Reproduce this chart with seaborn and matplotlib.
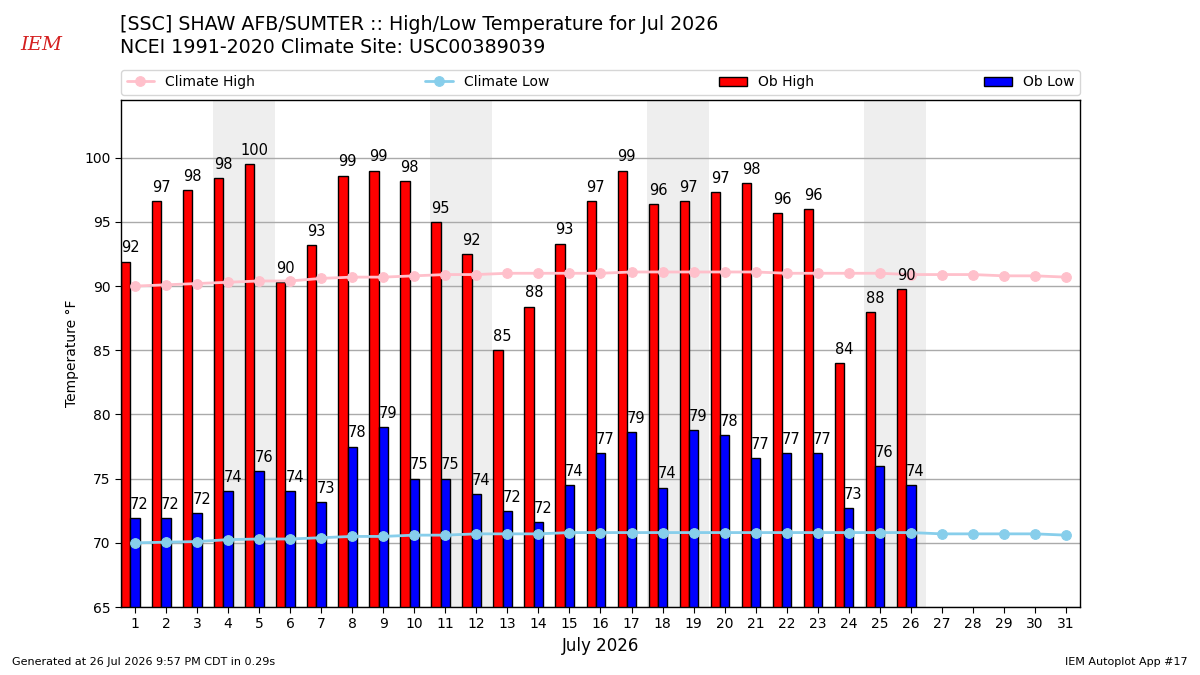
import matplotlib
matplotlib.use("Agg")
import matplotlib.pyplot as plt
import pandas as pd
import seaborn as sns

# DONNEES ----------------------------------------------

days = list(range(1, 32))
ob_days = list(range(1, 27))
ob_high = [91.9, 96.6, 97.5, 98.4, 99.5, 90.3, 93.2, 98.6, 99.0, 98.2,
           95.0, 92.5, 85.0, 88.4, 93.3, 96.6, 99.0, 96.4, 96.6, 97.3,
           98.0, 95.7, 96.0, 84.0, 88.0, 89.75]
ob_low = [71.95, 71.95, 72.3, 74.0, 75.6, 74.0, 73.2, 77.5, 79.0, 75.0,
          75.0, 73.8, 72.5, 71.6, 74.5, 77.0, 78.6, 74.3, 78.8, 78.4,
          76.6, 77.0, 77.0, 72.7, 76.0, 74.5]
clim_high = [90.0, 90.1, 90.2, 90.3, 90.4, 90.4, 90.6, 90.7, 90.7, 90.8,
             90.9, 90.9, 91.0, 91.0, 91.0, 91.0, 91.1, 91.1, 91.1, 91.1,
             91.1, 91.0, 91.0, 91.0, 91.0, 90.9, 90.9, 90.9, 90.8, 90.8,
             90.7]
clim_low = [70.0, 70.05, 70.1, 70.25, 70.3, 70.3, 70.4, 70.5, 70.5, 70.6,
            70.6, 70.7, 70.7, 70.7, 70.8, 70.8, 70.8, 70.8, 70.8, 70.8,
            70.8, 70.8, 70.8, 70.8, 70.8, 70.8, 70.7, 70.7, 70.7, 70.7,
            70.6]
weekends = [(4, 5), (11, 12), (18, 19), (25, 26)]

obs = pd.DataFrame({
    "day": ob_days * 2,
    "temp": ob_high + ob_low,
    "kind": ["Ob High"] * len(ob_days) + ["Ob Low"] * len(ob_days),
})
# barres rouges centrees a jour-0.3, bleues au jour
obs["pos"] = obs["day"] - 0.15

# FIGURE -----------------------------------------------

sns.set_style("white")
plt.rcParams["font.family"] = ["DejaVu Sans"]
plt.rcParams.update({
    "text.color": "black", "axes.labelcolor": "black",
    "xtick.color": "black", "ytick.color": "black",
})

fig = plt.figure(figsize=(12, 6.75), dpi=100)
ax = fig.add_axes([0.1008, 0.1007, 0.7992, 0.7512])

for a, b in weekends:
    ax.axvspan(a - 0.5, b + 0.5, color="#eeeeee", zorder=0, lw=0)

sns.barplot(
    data=obs, x="pos", y="temp", hue="kind", native_scale=True,
    palette={"Ob High": "red", "Ob Low": "blue"}, hue_order=["Ob High", "Ob Low"],
    width=0.6, edgecolor="black", linewidth=1, errorbar=None, saturation=1,
    ax=ax, zorder=2,
)

sns.lineplot(x=days, y=clim_high, color="pink", marker="o", markersize=7,
             markeredgecolor="pink", linewidth=2, label="Climate High", ax=ax, zorder=4)
sns.lineplot(x=days, y=clim_low, color="skyblue", marker="o", markersize=7,
             markeredgecolor="skyblue", linewidth=2, label="Climate Low", ax=ax, zorder=4)

# etiquettes des barres
for d, hi, lo in zip(ob_days, ob_high, ob_low):
    ax.annotate(f"{hi:.0f}", xy=(d - 0.15, hi), xytext=(0, 4.5), textcoords="offset points",
                ha="center", va="bottom", fontsize=10.5, zorder=6)
    ax.annotate(f"{lo:.0f}", xy=(d + 0.15, lo), xytext=(0, 4.5), textcoords="offset points",
                ha="center", va="bottom", fontsize=10.5, zorder=6)

ax.set_xlim(0.55, 31.45)
ax.set_ylim(65, 104.5)
ax.set_xticks(days)
ax.set_xticklabels([str(d) for d in days], fontsize=10)
ax.set_yticks(range(65, 101, 5))
ax.tick_params(axis="y", labelsize=10, length=4, left=True)
ax.tick_params(axis="x", length=4, bottom=True)
ax.yaxis.grid(True, color="#aaaaaa", lw=1)
ax.set_axisbelow(True)
for s in ax.spines.values():
    s.set_color("black")
    s.set_linewidth(1)

ax.set_xlabel("July 2026", fontsize=12)
ax.set_ylabel("Temperature °F", fontsize=10)

handles, labels = ax.get_legend_handles_labels()
order = ["Climate High", "Climate Low", "Ob High", "Ob Low"]
hmap = dict(zip(labels, handles))
ax.legend([hmap[k] for k in order], order, loc="lower left", ncol=4, mode="expand",
          bbox_to_anchor=(0, 1.01, 1, 0.05), borderaxespad=0, fontsize=10,
          frameon=True, edgecolor="#cccccc", handlelength=2)

# TITRES -----------------------------------------------

fig.text(0.1, 0.964, "[SSC] SHAW AFB/SUMTER :: High/Low Temperature for Jul 2026",
         fontsize=13.7, va="center", ha="left")
fig.text(0.1, 0.93, "NCEI 1991-2020 Climate Site: USC00389039",
         fontsize=13.7, va="center", ha="left")
fig.text(0.017, 0.933, "IEM", fontsize=14, color="#d42020", style="italic",
         family="DejaVu Serif", va="center", ha="left")
fig.text(0.01, 0.015, "Generated at 26 Jul 2026 9:57 PM CDT in 0.29s", fontsize=8)
fig.text(0.99, 0.015, "IEM Autoplot App #17", fontsize=8, ha="right")

fig.savefig("out.png", dpi=100)
